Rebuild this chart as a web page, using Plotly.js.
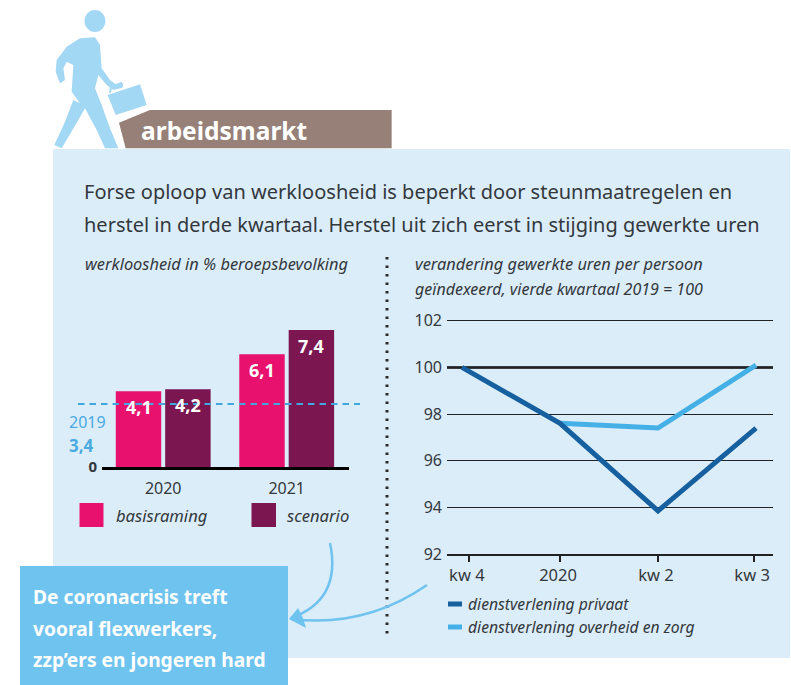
<!DOCTYPE html>
<html>
<head>
<meta charset="utf-8">
<script src="https://cdn.plot.ly/plotly-3.0.1.min.js"></script>
<style>html,body{margin:0;padding:0;background:#fff}#chart{width:791px;height:685px}</style>
</head>
<body>
<div id="chart"></div>
<script>
// ---- data ----
const barYears = ['2020', '2021'];
const basisraming = [4.1, 6.1];
const scenario = [4.2, 7.4];
const reference2019 = 3.4;
const periods = ['kw 4', '2020', 'kw 2', 'kw 3'];
const privaat = [100, 97.6, 93.85, 97.4];
const overheid = [null, 97.6, 97.4, 100.1];
const lineTicks = [92, 94, 96, 98, 100, 102];

// ---- style ----
const W = 791, H = 685;
const FONT = '"Noto Sans", "Open Sans", sans-serif';
const INK = '#33383d', PINK = '#e8116e', PLUM = '#7b1650';
const DARKBLUE = '#17609f', LIGHTBLUE = '#45b0e6', SKY = '#6fc3ef', PANEL = '#dcedfa', BROWN = '#968078', FIGURE = '#a3d8f5';

const X = x => x / W, Y = y => 1 - y / H;
const pathOf = s => s.replace(/(-?[\d.]+) (-?[\d.]+)/g, (m, a, b) => X(+a) + ' ' + Y(+b));
const zoomPts = (pts, dx, dy) => 'M' + pts.map(p => (dx + p[0] / 3) + ' ' + (dy + p[1] / 3)).join(' L') + ' Z';
const fillShape = (d, color, layer) => ({type: 'path', xref: 'paper', yref: 'paper', path: pathOf(d), fillcolor: color, line: {width: 0}, layer: layer || 'below'});
const rectPx = (x0, y0, x1, y1, color) => ({type: 'rect', xref: 'paper', yref: 'paper', x0: X(x0), x1: X(x1), y0: Y(y1), y1: Y(y0), fillcolor: color, line: {width: 0}, layer: 'below'});
const strokePath = (d, color, w, layer) => ({type: 'path', xref: 'paper', yref: 'paper', path: pathOf(d), line: {color: color, width: w}, layer: layer || 'above'});
const txt = (text, x, y, size, color) => ({text: text, x: X(x - 2), y: Y(y), xref: 'paper', yref: 'paper', xanchor: 'left', yanchor: 'middle', showarrow: false, font: {family: FONT, size: size, color: color || INK}});

const person = [[105,100],[150,97],[165,120],[170,190],[195,225],[215,240],[235,235],[232,248],[205,255],[185,240],[160,210],[150,250],[170,300],[195,370],[220,430],[180,430],[155,375],[120,310],[100,345],[50,430],[28,420],[60,350],[85,285],[105,295],[80,260],[85,180],[65,170],[55,190],[60,225],[45,235],[32,200],[35,165],[65,125]];
const briefcase = [[188,270],[285,238],[305,300],[212,330]];
const banner = [[237,368],[330,330],[1055,330],[1055,445],[257,445]];

const shapes = [
  rectPx(53, 149, 790, 658, PANEL),
  fillShape(zoomPts(person, 45, 5), FIGURE),
  {type: 'circle', xref: 'paper', yref: 'paper', x0: X(84.5), x1: X(105.5), y0: Y(32), y1: Y(10), fillcolor: FIGURE, line: {width: 0}, layer: 'below'},
  strokePath('M110 93 L111 87 L121 83 L122 87', FIGURE, 2, 'below'),
  fillShape(zoomPts(briefcase, 45, 5), FIGURE),
  fillShape(zoomPts(banner, 40, 0), BROWN),
  rectPx(20, 566, 288, 685, SKY),
  // divider
  {type: 'line', xref: 'paper', yref: 'paper', x0: X(387), x1: X(387), y0: Y(257), y1: Y(636), line: {color: '#2b2b2b', width: 3, dash: '2.5px,6px'}, layer: 'below'},
  // 2019 reference
  {type: 'line', xref: 'paper', yref: 'y', x0: X(78), x1: X(360), y0: reference2019, y1: reference2019, line: {color: '#3ea8df', width: 2, dash: '6.5px,5px'}, layer: 'above'},
  // heavier 100 line
  {type: 'line', xref: 'paper', yref: 'y2', x0: X(447), x1: X(773), y0: 100, y1: 100, line: {color: '#000', width: 2.5}, layer: 'below'},
  // arrows
  strokePath('M330 543 Q342 600 291 618', SKY, 2.5),
  strokePath('M427 585 Q365 628 291 619', SKY, 2.5),
  fillShape('M289 619 L298 608 L303 618 L306 628 Z', SKY, 'above'),
  // legend swatches
  rectPx(79.5, 503, 103.5, 527, PINK),
  rectPx(251.5, 503, 276, 527, PLUM),
  {type: 'line', xref: 'paper', yref: 'paper', x0: X(448), x1: X(462), y0: Y(604), y1: Y(604), line: {color: DARKBLUE, width: 5}},
  {type: 'line', xref: 'paper', yref: 'paper', x0: X(448), x1: X(462), y0: Y(627), y1: Y(627), line: {color: LIGHTBLUE, width: 5}}
];

const comma = v => String(v).replace('.', ',');
const slotPx = 24.65;
const barLabels = [];
barYears.forEach((yr, i) => {
  [[basisraming, -slotPx], [scenario, slotPx]].forEach(([vals, shift]) => {
    barLabels.push({text: '<b>' + comma(vals[i]) + '</b>', x: i, y: vals[i], xref: 'x', yref: 'y', xshift: shift, yshift: -16, xanchor: 'center', yanchor: 'middle', showarrow: false, font: {family: FONT, size: 18, color: '#fff'}});
  });
});

const annotations = barLabels.concat([
  txt('<b>arbeidsmarkt</b>', 141, 130, 24.5, '#fff'),
  txt('Forse oploop van werkloosheid is beperkt door steunmaatregelen en', 84, 192, 20),
  txt('herstel in derde kwartaal. Herstel uit zich eerst in stijging gewerkte uren', 84, 224, 20),
  txt('<i>werkloosheid in % beroepsbevolking</i>', 85, 264, 16.4),
  txt('<i>verandering gewerkte uren per persoon</i>', 415, 264, 16.4),
  txt('<i>geïndexeerd, vierde kwartaal 2019 = 100</i>', 415, 289, 16),
  txt('2019', 69, 421.5, 16, '#4aabe0'),
  txt('<b>' + comma(reference2019) + '</b>', 69, 445, 17, '#4aabe0'),
  txt('<i>basisraming</i>', 116, 515, 16.6),
  txt('<i>scenario</i>', 287, 515, 16.6),
  txt('<i>dienstverlening privaat</i>', 468, 604, 15.7),
  txt('<i>dienstverlening overheid en zorg</i>', 468, 627, 15.7),
  txt('<b>De coronacrisis treft</b>', 33, 596, 19.2, '#fff'),
  txt('<b>vooral flexwerkers,</b>', 33, 628, 19.2, '#fff'),
  txt('<b>zzp’ers en jongeren hard</b>', 33, 659, 19.2, '#fff')
]);

const traces = [
  {type: 'bar', name: 'basisraming', x: barYears, y: basisraming, marker: {color: PINK}, xaxis: 'x', yaxis: 'y', showlegend: false, hoverinfo: 'skip'},
  {type: 'bar', name: 'scenario', x: barYears, y: scenario, marker: {color: PLUM}, xaxis: 'x', yaxis: 'y', showlegend: false, hoverinfo: 'skip'},
  {type: 'scatter', mode: 'lines', name: 'dienstverlening overheid en zorg', x: periods, y: overheid, line: {color: LIGHTBLUE, width: 5}, xaxis: 'x2', yaxis: 'y2', showlegend: false, hoverinfo: 'skip'},
  {type: 'scatter', mode: 'lines', name: 'dienstverlening privaat', x: periods, y: privaat, line: {color: DARKBLUE, width: 5}, xaxis: 'x2', yaxis: 'y2', showlegend: false, hoverinfo: 'skip'}
];

const layout = {
  width: W, height: H, autosize: false,
  margin: {l: 0, r: 0, t: 0, b: 0},
  paper_bgcolor: '#fff', plot_bgcolor: 'rgba(0,0,0,0)',
  font: {family: FONT, color: INK},
  showlegend: false,
  barmode: 'group', bargap: 0.2, bargroupgap: 0.08,
  xaxis: {type: 'category', domain: [X(102), X(349)], range: [-0.4955, 1.5045], anchor: 'y', showgrid: false, showline: true, linecolor: '#000', linewidth: 3, ticks: '', ticklabelstandoff: 5, tickfont: {family: FONT, size: 16, color: INK}, fixedrange: true},
  yaxis: {domain: [Y(467), Y(317)], range: [0, 8.108], anchor: 'x', showgrid: false, zeroline: false, showline: false, tickmode: 'array', tickvals: [0], ticktext: ['<b>0</b>'], ticks: '', ticklabelstandoff: 4, tickfont: {family: FONT, size: 15, color: INK}, fixedrange: true},
  xaxis2: {type: 'category', domain: [X(447), X(773)], range: [-0.153, 3.173], anchor: 'y2', showgrid: false, showline: true, linecolor: '#222', linewidth: 1.5, ticks: 'outside', ticklen: 6, tickwidth: 1.5, tickcolor: '#222', tickmode: 'array', tickvals: [0.07, 1, 2, 2.98], ticktext: periods, ticklabelshift: -2, tickfont: {family: FONT, size: 16.5, color: INK}, fixedrange: true},
  yaxis2: {domain: [Y(554), Y(318.4)], range: [92, 102.1], anchor: 'x2', showgrid: true, gridcolor: '#222', gridwidth: 1, zeroline: false, showline: false, tickmode: 'array', tickvals: lineTicks, ticks: '', ticklabelstandoff: 4, tickfont: {family: FONT, size: 16, color: INK}, fixedrange: true},
  shapes: shapes,
  annotations: annotations
};

Plotly.newPlot('chart', traces, layout, {displayModeBar: false, staticPlot: true});
</script>
</body>
</html>
